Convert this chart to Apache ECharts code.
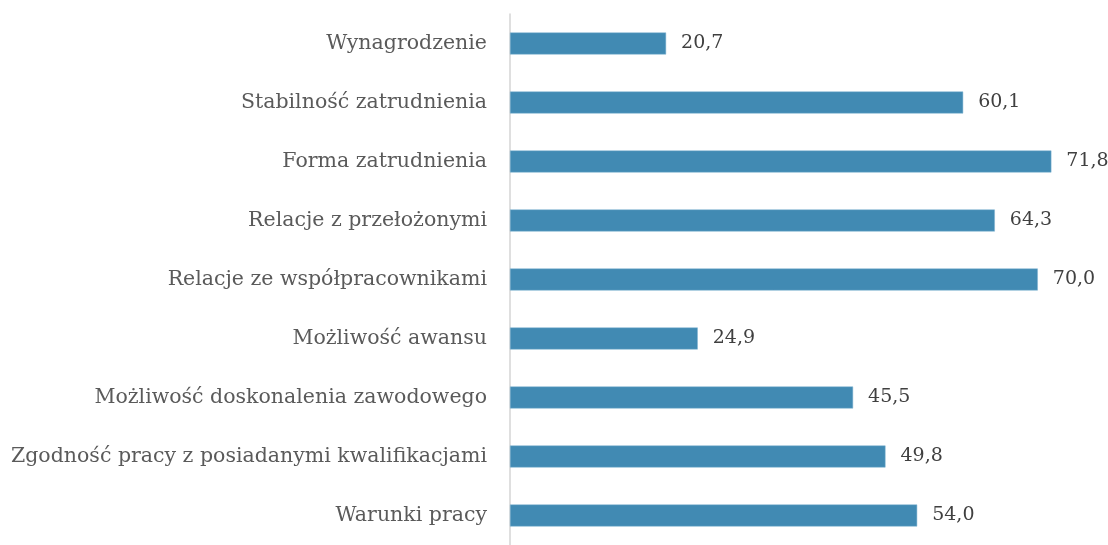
<!DOCTYPE html>
<html>
<head>
<meta charset="utf-8">
<script src="https://cdn.jsdelivr.net/npm/echarts@6/dist/echarts.min.js"></script>
<style>
html, body { margin: 0; padding: 0; background: #fff; }
#charts { width: 1108px; height: 545px; }
</style>
</head>
<body>
<div id="charts"></div>
<script>
// kategorie od góry do dołu
const categories = [
    'Wynagrodzenie',
    'Stabilność zatrudnienia',
    'Forma zatrudnienia',
    'Relacje z przełożonymi',
    'Relacje ze współpracownikami',
    'Możliwość awansu',
    'Możliwość doskonalenia zawodowego',
    'Zgodność pracy z posiadanymi kwalifikacjami',
    'Warunki pracy'
]
const values = [20.7, 60.1, 71.8, 64.3, 70.0, 24.9, 45.5, 49.8, 54.0]

let myChart = echarts.init(document.getElementById('charts'))
let option = {
    animation: false,
    grid: {
        left: 510,
        top: 14,
        width: 565.5,
        height: 541
    },
    xAxis: {
        type: 'value',
        min: 0,
        max: 75,
        show: false
    },
    yAxis: {
        type: 'category',
        inverse: true,
        data: categories,
        axisLine: { lineStyle: { color: '#d4d4d4', width: 1.5 } },
        axisTick: { show: false },
        axisLabel: {
            margin: 23,
            color: '#5a5a5a',
            fontFamily: 'DejaVu Serif',
            fontSize: 20.5
        }
    },
    series: [{
        type: 'bar',
        data: values,
        barWidth: 22,
        itemStyle: {
            color: '#418ab3',
            borderColor: '#7fb3d1',
            borderWidth: 0.5
        },
        label: {
            show: true,
            position: 'right',
            distance: 15,
            color: '#404040',
            fontFamily: 'DejaVu Serif',
            fontSize: 19,
            formatter: p => p.value.toFixed(1).replace('.', ',')
        }
    }]
}
myChart.setOption(option)
</script>
</body>
</html>
